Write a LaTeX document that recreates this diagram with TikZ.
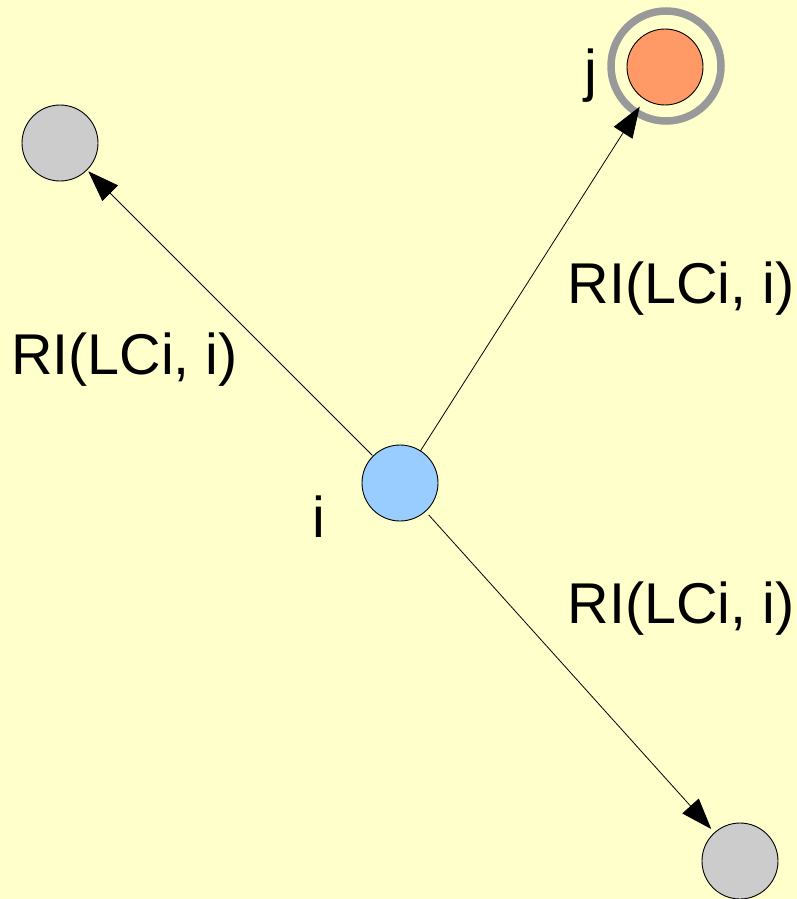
\documentclass[tikz,border=0pt]{standalone}
\usepackage{fontspec}
\setmainfont{Liberation Sans}
\usetikzlibrary{arrows.meta}
\definecolor{bgyellow}{HTML}{FFFFCC}
\definecolor{nodegray}{HTML}{CCCCCC}
\definecolor{nodeorange}{HTML}{FF9966}
\definecolor{nodeblue}{HTML}{99CCFF}
\definecolor{ringgray}{HTML}{999999}
\tikzset{
  vertex/.style={circle, draw=black, line width=0.9pt, minimum size=76pt, inner sep=0pt, outer sep=0pt},
  lbl/.style={font=\fontsize{57.5}{62}\selectfont, inner sep=0pt, anchor=base},
  arr/.style={line width=0.8pt, -{Triangle[length=31pt,width=22pt]}},
}
\begin{document}
\begin{tikzpicture}[x=1pt,y=-1pt]
  \fill[bgyellow] (0,0) rectangle (797,899);
  \useasboundingbox (0,0) rectangle (797,899);
  \node[vertex, fill=nodegray] (tl) at (60,143) {};
  \node[vertex, fill=nodeorange] (j) at (665,67) {};
  \node[circle, draw=ringgray, line width=7.5pt, minimum size=110pt, inner sep=0pt] (ring) at (666,66) {};
  \node[vertex, fill=nodeblue] (i) at (400,483) {};
  \node[vertex, fill=nodegray] (br) at (740,861) {};
  \draw[arr, shorten <=1pt, shorten >=2pt] (i) -- (tl);
  \draw[arr, shorten >=9pt] (i) -- (j);
  \draw[arr, shorten <=5pt, shorten >=5pt] (i) -- (br);
  \node[lbl] (l1) at (124.5,374) {RI(LCi, i)};
  \node[lbl] (l2) at (681,303) {RI(LCi, i)};
  \node[lbl] (l3) at (681,623) {RI(LCi, i)};
  \node[lbl] (li) at (319,537) {i};
  \node[lbl] (lj) at (591,90) {j};
\end{tikzpicture}
\end{document}
